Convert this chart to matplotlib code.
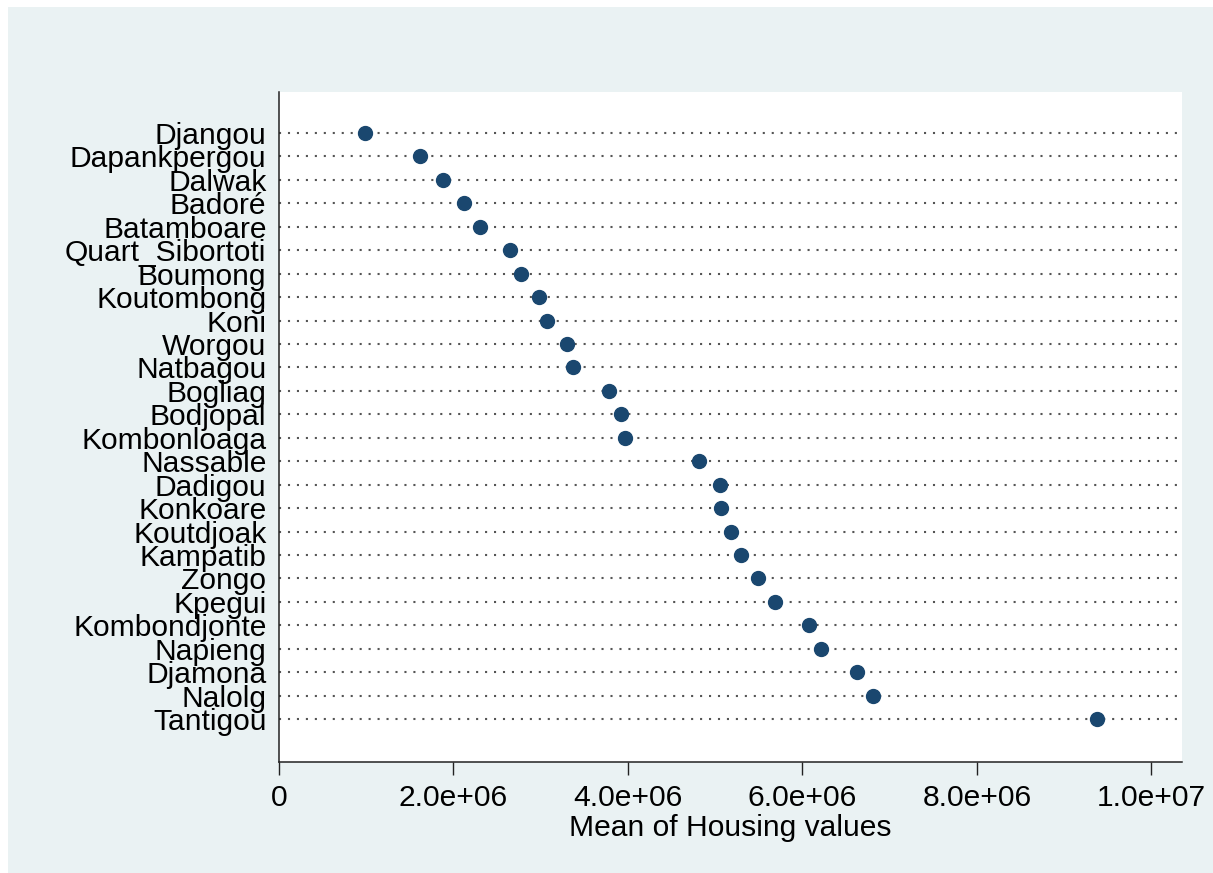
import matplotlib
matplotlib.use("Agg")
import matplotlib.pyplot as plt
from matplotlib.patches import Rectangle
from matplotlib.ticker import FixedLocator

categories = ["Djangou", "Dapankpergou", "Dalwak", "Badoré", "Batamboare",
              "Quart_Sibortoti", "Boumong", "Koutombong", "Koni", "Worgou",
              "Natbagou", "Bogliag", "Bodjopal", "Kombonloaga", "Nassable",
              "Dadigou", "Konkoare", "Koutdjoak", "Kampatib", "Zongo",
              "Kpegui", "Kombondjonte", "Napieng", "Djamona", "Nalolg",
              "Tantigou"]
mean_values = [0.98e6, 1.62e6, 1.88e6, 2.12e6, 2.30e6,
               2.65e6, 2.77e6, 2.98e6, 3.07e6, 3.30e6,
               3.37e6, 3.78e6, 3.92e6, 3.97e6, 4.81e6,
               5.05e6, 5.07e6, 5.18e6, 5.30e6, 5.49e6,
               5.69e6, 6.07e6, 6.21e6, 6.62e6, 6.81e6,
               9.38e6]
x_ticks = [0, 2e6, 4e6, 6e6, 8e6, 1e7]
x_tick_labels = ["0", "2.0e+06", "4.0e+06", "6.0e+06", "8.0e+06", "1.0e+07"]
x_label = "Mean of Housing values"

plt.rcParams['font.family'] = ['Liberation Sans', 'DejaVu Sans']
FS = 21.6

W, H = 1213, 873
fig = plt.figure(figsize=(W / 100, H / 100), dpi=100, facecolor="white")
# light bluish-gray graph region
bg = Rectangle((8 / W, 0), 1 - 8 / W, 1 - 7 / H,
               transform=fig.transFigure, facecolor="#eaf2f3",
               edgecolor="none", zorder=-10)
fig.add_artist(bg)

ax = fig.add_axes([279 / W, 1 - 762 / H, (1182 - 279) / W, (762 - 92) / H])
ax.set_zorder(1)
ax.set_facecolor("white")

n = len(categories)
ypos = list(range(n))
ax.hlines(ypos, 0, 1.04e7, colors="#555555", linestyles=(0, (1, 3.3)),
          linewidth=1.5, zorder=1)
ax.plot(mean_values, ypos, linestyle="none", marker="o", markersize=10,
        color="#1a476f", markeredgecolor="#1a476f", zorder=3)

ax.set_xlim(0, 1.035e7)
ax.set_ylim(n - 1 + 1.83, -1.75)

ax.set_yticks(ypos)
ax.set_yticklabels(categories, fontsize=FS)
ax.tick_params(axis="y", length=0, pad=9)

ax.xaxis.set_major_locator(FixedLocator(x_ticks))
ax.set_xticklabels(x_tick_labels, fontsize=FS)
ax.tick_params(axis="x", length=9.5, width=1, color="#222222", pad=6)
ax.set_xlabel(x_label, fontsize=FS, labelpad=2)

for side in ["top", "right"]:
    ax.spines[side].set_visible(False)
for side in ["left", "bottom"]:
    ax.spines[side].set_color("#222222")
    ax.spines[side].set_linewidth(1.1)

fig.savefig("out.png", dpi=100, facecolor="white")
